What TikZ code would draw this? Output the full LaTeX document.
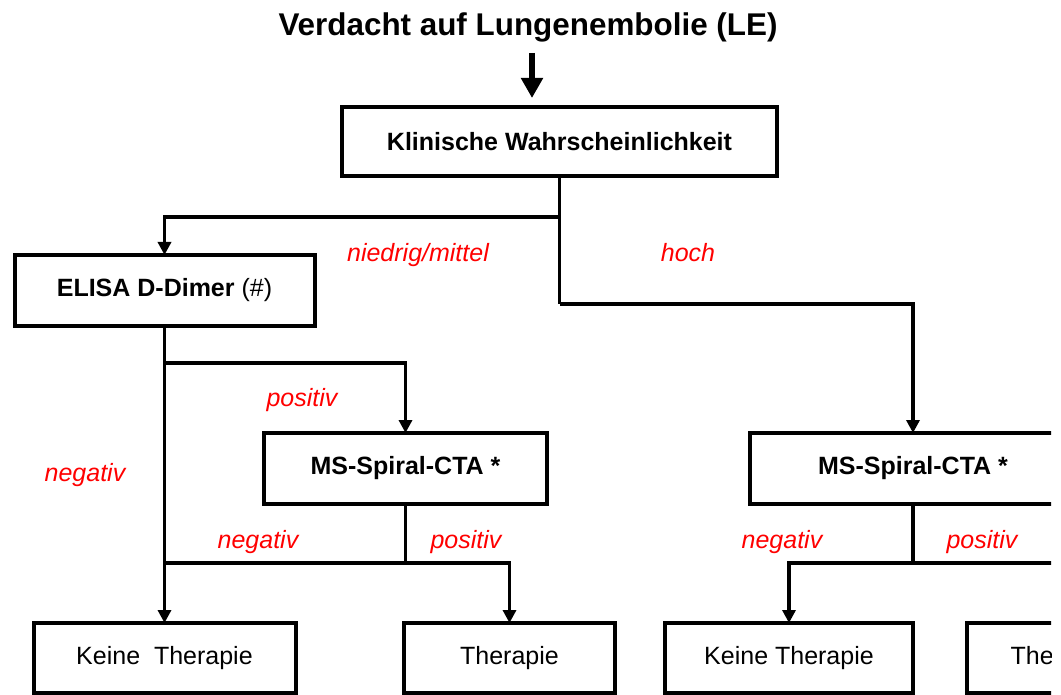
\documentclass[tikz,border=0pt]{standalone}
\usepackage{fontspec}
\setmainfont{Liberation Sans}
\usetikzlibrary{arrows.meta}
\newcommand*\boxlw {4pt}
\newcommand*\linelw{3.6pt}
\tikzset{
    flowbox/.style   = {draw, line width=\boxlw, inner sep=0pt, outer sep=0pt,
                       font=\fontsize{25}{30}\selectfont},
    boldbox/.style   = {flowbox, font=\fontsize{25}{30}\selectfont\bfseries},
    titletext/.style = {anchor=base, inner sep=0pt,
                       font=\fontsize{31.4}{36}\selectfont\bfseries},
    lbl/.style       = {anchor=base, inner sep=0pt, text=red,
                       font=\fontsize{25}{30}\selectfont\itshape},
    plainline/.style = {line width=\linelw},
    arrowline/.style = {plainline, -{Triangle[width=13pt,length=13pt]}},
    bigarrow/.style  = {line width=6pt, -{Triangle[width=21pt,length=20pt]}},
  }
\begin{document}
\begin{tikzpicture}[x=1pt,y=-1pt]
    % page frame, one unit = one pixel of the source
    \useasboundingbox (0,0) rectangle (1061,695);
    \clip (0,0) rectangle (1051,695);

    % title and first box
    \node[titletext] (title) at (528,36) {Verdacht auf Lungenembolie (LE)};
    \node[boldbox, minimum width=435pt, minimum height=69pt] (klin) at (559.5,141.5) {Klinische Wahrscheinlichkeit};

    % tests
    \node[boldbox, minimum width=300pt, minimum height=71pt] (elisa) at (164.5,290.5) {ELISA D-Dimer \textmd{(\#)}};
    \node[boldbox, minimum width=283pt, minimum height=71pt] (ctaL) at (405.5,468.5) {MS-Spiral-CTA *};
    \node[boldbox, minimum width=326pt, minimum height=71pt] (ctaR) at (913,468.5) {MS-Spiral-CTA *};

    % outcomes (bottom row, cut by the page edge)
    \node[flowbox, minimum width=262pt, minimum height=70pt] (noneL) at (164.5,658) {Keine~~Therapie};
    \node[flowbox, minimum width=211pt, minimum height=70pt] (therL) at (509.5,658) {Therapie};
    \node[flowbox, minimum width=248pt, minimum height=70pt] (noneR) at (789,658) {Keine Therapie};
    \node[flowbox, minimum width=186pt, minimum height=70pt] (therR) at (1060,658) {Therapie};

    % branch points
    \coordinate (j1) at (559.5,217);
    \coordinate (j2) at (559.5,304);
    \coordinate (j3) at (164.5,363);
    \coordinate (j4) at (405.5,563);
    \coordinate (j5) at (913,563);

    % connectors
    \draw[bigarrow, shorten <=10pt, shorten >=9pt] (title.south -| 532,0) -- (klin.north -| 532,0);
    \draw[plainline] (klin.south) -- (j2);
    \draw[arrowline] (j1) -| (elisa.north);
    \draw[arrowline] (j2) -| (ctaR.north);
    \draw[arrowline] (elisa.south) -- (noneL.north);
    \draw[arrowline] (j3) -| (ctaL.north);
    \draw[plainline] (ctaL.south) -- (j4);
    \draw[arrowline] (j4 -| noneL.north) -| (therL.north);
    \draw[plainline] (ctaR.south) -- (j5);
    \draw[arrowline] (j5) -| (noneR.north);
    \draw[arrowline] (j5) -| (therR.north);

    % branch labels
    \foreach \t/\x/\y [count=\i from 1] in {{niedrig/mittel}/418/262, hoch/688/262,
            positiv/302/406, negativ/85/481, negativ/258/548, positiv/466/548,
            negativ/782/548, positiv/982/548} {
        \node[lbl] (lab\i) at (\x,\y) {\t};
    }
\end{tikzpicture}
\end{document}
